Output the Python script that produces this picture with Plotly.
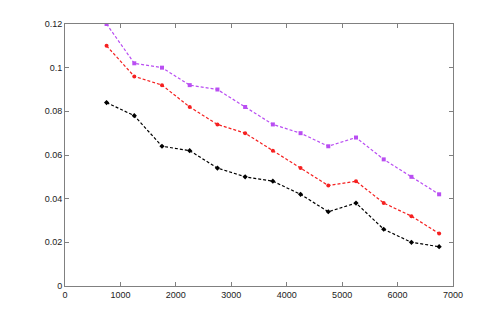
import plotly.graph_objects as go

x_vals = [750, 1250, 1750, 2250, 2750, 3250, 3750, 4250, 4750, 5250, 5750, 6250, 6750]
purple_vals = [0.120, 0.102, 0.100, 0.092, 0.090, 0.082, 0.074, 0.070, 0.064, 0.068, 0.058, 0.050, 0.042]
red_vals = [0.110, 0.096, 0.092, 0.082, 0.074, 0.070, 0.062, 0.054, 0.046, 0.048, 0.038, 0.032, 0.024]
black_vals = [0.084, 0.078, 0.064, 0.062, 0.054, 0.050, 0.048, 0.042, 0.034, 0.038, 0.026, 0.020, 0.018]

x_ticks = [0, 1000, 2000, 3000, 4000, 5000, 6000, 7000]
y_ticks = [0, 0.02, 0.04, 0.06, 0.08, 0.1, 0.12]
y_labels = ["0", "0.02", "0.04", "0.06", "0.08", "0.1", "0.12"]

series = [
    (purple_vals, "#b94ef2", "square"),
    (red_vals, "#f52020", "circle"),
    (black_vals, "#000000", "diamond"),
]

fig = go.Figure()
for vals, color, symbol in series:
    fig.add_trace(go.Scatter(
        x=x_vals, y=vals, mode="lines+markers",
        line=dict(color=color, width=1.2, dash="3px,2px"),
        marker=dict(symbol=symbol, size=4, color=color),
        showlegend=False,
    ))

axis_common = dict(
    showgrid=False, zeroline=False, showline=True, linecolor="#808080",
    linewidth=1, mirror="ticks", ticks="inside", ticklen=4, tickcolor="#808080",
    tickfont=dict(family="Liberation Sans, Arial", size=9, color="#222222"),
)

fig.update_xaxes(range=[0, 7000], tickvals=x_ticks, **axis_common)
fig.update_yaxes(range=[0, 0.12], tickvals=y_ticks, ticktext=y_labels, **axis_common)

fig.update_layout(
    width=501, height=322,
    margin=dict(l=57, r=56, t=16, b=44),
    plot_bgcolor="white", paper_bgcolor="white",
)

fig.write_html("out.html")
